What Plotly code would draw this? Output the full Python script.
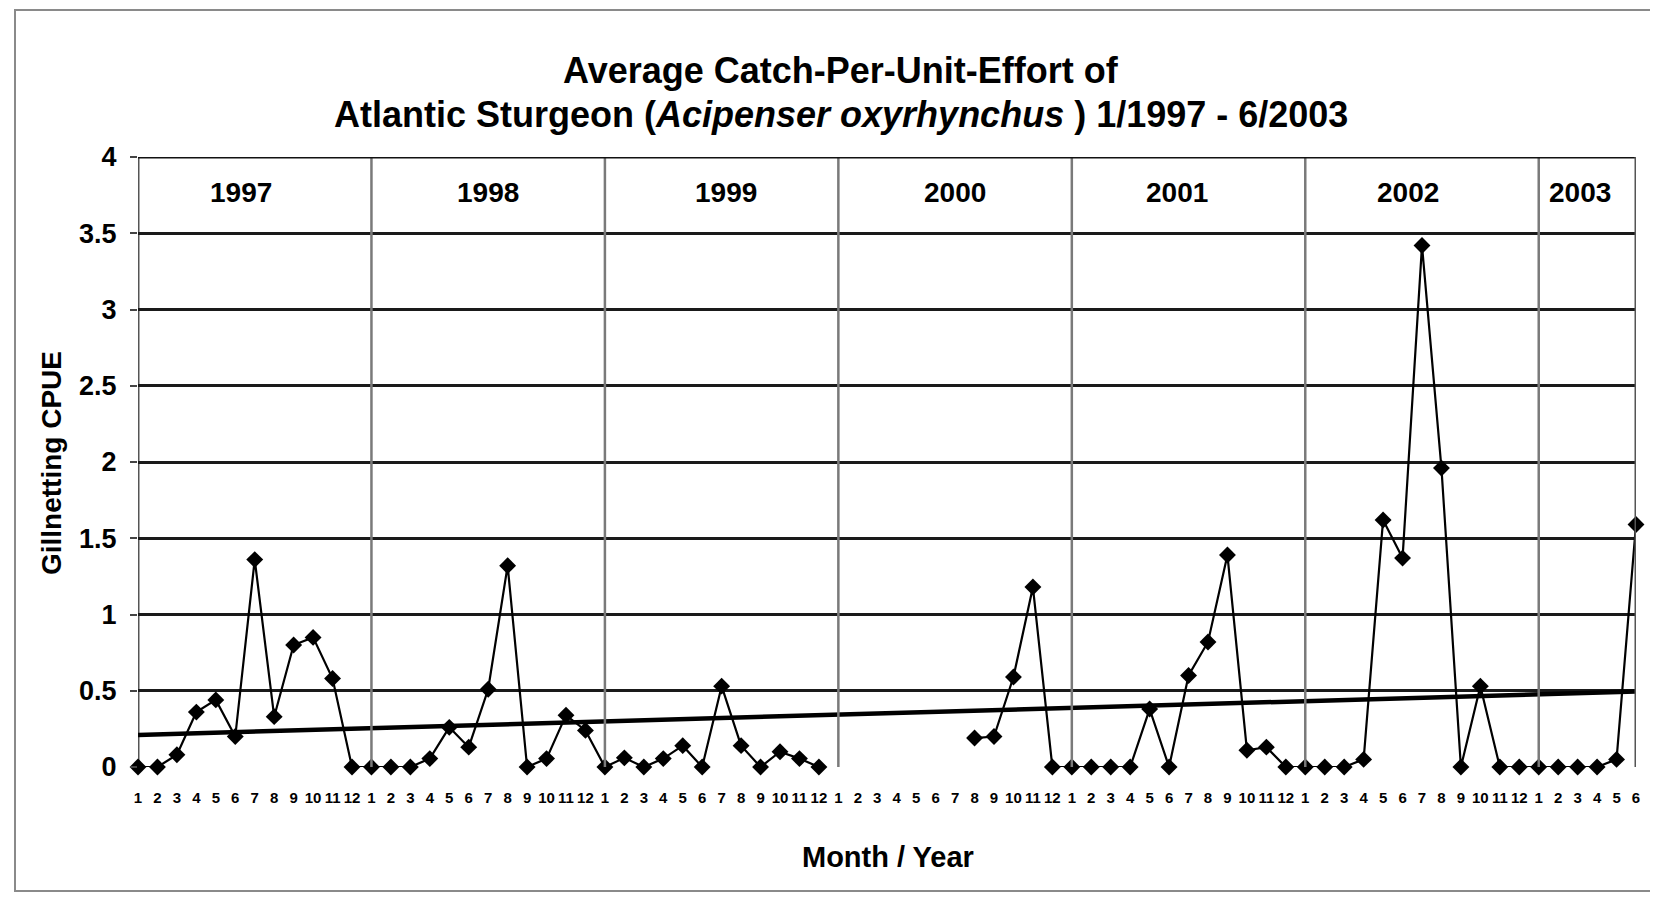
import plotly.graph_objects as go

# ---------------- data ----------------
years = ["1997", "1998", "1999", "2000", "2001", "2002", "2003"]
month_labels = [str(m) for m in range(1, 13)] * 6 + [str(m) for m in range(1, 7)]

cpue_1997 = [0, 0, 0.08, 0.36, 0.44, 0.20, 1.36, 0.33, 0.80, 0.85, 0.58, 0]
cpue_1998 = [0, 0, 0, 0.055, 0.26, 0.13, 0.51, 1.32, 0, 0.055, 0.34, 0.24]
cpue_1999 = [0, 0.06, 0, 0.055, 0.14, 0, 0.53, 0.14, 0, 0.10, 0.055, 0]
cpue_2000 = [None, None, None, None, None, None, None, 0.19, 0.20, 0.59, 1.18, 0]
cpue_2001 = [0, 0, 0, 0, 0.38, 0, 0.60, 0.82, 1.39, 0.11, 0.13, 0]
cpue_2002 = [0, 0, 0, 0.05, 1.62, 1.37, 3.42, 1.96, 0, 0.53, 0, 0]
cpue_2003 = [0, 0, 0, 0, 0.05, 1.59]

trend_start = 0.21
trend_end = 0.495

y_ticks = [0, 0.5, 1, 1.5, 2, 2.5, 3, 3.5, 4]
y_ticktext = ["0", "0.5", "1", "1.5", "2", "2.5", "3", "3.5", "4"]

# ---------------- build ----------------
cpue = cpue_1997 + cpue_1998 + cpue_1999 + cpue_2000 + cpue_2001 + cpue_2002 + cpue_2003
x = list(range(len(cpue)))
n_last = len(cpue) - 1

# page has an 8px body margin; figure placed at (8, 8)
OFF = 8
W, H = 1650, 889
# desired page-pixel plot box
PL, PR, PT, PB = 138, 1636, 157, 767
L = PL - OFF
R = W - (PR - OFF)
T = PT - OFF
B = H - (PB - OFF)
pw, ph = W - L - R, H - T - B
FONT = "Liberation Sans, Arial, sans-serif"


def px(xp):
    return (xp - PL) / pw


def py(yp):
    return (PB - yp) / ph


fig = go.Figure()

# trend line
fig.add_trace(go.Scatter(
    x=[0, n_last], y=[trend_start, trend_end], mode="lines",
    line=dict(color="black", width=4.5), hoverinfo="skip", showlegend=False,
    cliponaxis=False))

# data line
fig.add_trace(go.Scatter(
    x=x, y=cpue, mode="lines+markers",
    line=dict(color="black", width=2.2),
    marker=dict(symbol="diamond", size=13, color="black"),
    connectgaps=False, showlegend=False, cliponaxis=False))

shapes = []
# year dividers
for i in range(1, len(years)):
    shapes.append(dict(type="line", xref="x", yref="y", x0=12 * i, x1=12 * i,
                       y0=0, y1=4, line=dict(color="#7a7a7a", width=2.5), layer="above"))
# frame: top, right, left
shapes.append(dict(type="line", xref="x", yref="y", x0=0, x1=n_last, y0=4, y1=4,
                   line=dict(color="#111", width=3), layer="above"))
shapes.append(dict(type="line", xref="x", yref="y", x0=n_last, x1=n_last, y0=0, y1=4,
                   line=dict(color="#555", width=3), layer="above"))
shapes.append(dict(type="line", xref="x", yref="y", x0=0, x1=0, y0=0, y1=4,
                   line=dict(color="#555", width=3), layer="below"))

# outer border (page pixel coords)
shapes.append(dict(type="rect", xref="paper", yref="paper",
                   x0=px(15), x1=px(1652), y0=py(891), y1=py(10),
                   line=dict(color="#8a8a8a", width=2), fillcolor="rgba(0,0,0,0)"))

annotations = []
# year labels (centres, in month-index units)
year_label_x = [5.3, 18.0, 30.2, 42.0, 53.4, 65.3, 74.1]
for yr, xc in zip(years, year_label_x):
    annotations.append(dict(x=xc, y=3.765, xref="x", yref="y", text=yr,
                            showarrow=False,
                            font=dict(family=FONT, size=28, color="black", weight="bold")))
# titles
annotations.append(dict(x=px(841), y=py(71), xref="paper", yref="paper",
                        xanchor="center", yanchor="middle", showarrow=False,
                        text="Average Catch-Per-Unit-Effort of",
                        font=dict(family=FONT, size=36, color="black", weight="bold")))
annotations.append(dict(x=px(841), y=py(115), xref="paper", yref="paper",
                        xanchor="center", yanchor="middle", showarrow=False,
                        text="Atlantic Sturgeon (<i>Acipenser oxyrhynchus</i> ) 1/1997 - 6/2003",
                        font=dict(family=FONT, size=36, color="black", weight="bold")))
annotations.append(dict(x=px(888), y=py(857), xref="paper", yref="paper",
                        xanchor="center", yanchor="middle", showarrow=False,
                        text="Month / Year",
                        font=dict(family=FONT, size=29, color="black", weight="bold")))
annotations.append(dict(x=px(51), y=py(463), xref="paper", yref="paper",
                        xanchor="center", yanchor="middle", showarrow=False, textangle=-90,
                        text="Gillnetting CPUE",
                        font=dict(family=FONT, size=28, color="black", weight="bold")))

fig.update_layout(
    width=W, height=H,
    margin=dict(l=L, r=R, t=T, b=B, autoexpand=False),
    paper_bgcolor="white", plot_bgcolor="white",
    shapes=shapes, annotations=annotations,
    xaxis=dict(range=[0, n_last], tickmode="array", tickvals=x, ticktext=month_labels,
               showgrid=False, zeroline=False, showline=False,
               ticks="", ticklabelstandoff=20, tickangle=0,
               tickfont=dict(family=FONT, size=15, color="black", weight="bold")),
    yaxis=dict(range=[0, 4], tickmode="array", tickvals=y_ticks, ticktext=y_ticktext,
               showgrid=True, gridcolor="#1a1a1a", gridwidth=2.5, zeroline=False,
               showline=False, ticks="outside", ticklen=7, tickcolor="#444", tickwidth=2,
               ticklabelstandoff=8,
               tickfont=dict(family=FONT, size=27, color="black", weight="bold")),
    showlegend=False,
)

fig.write_html("out.html")
